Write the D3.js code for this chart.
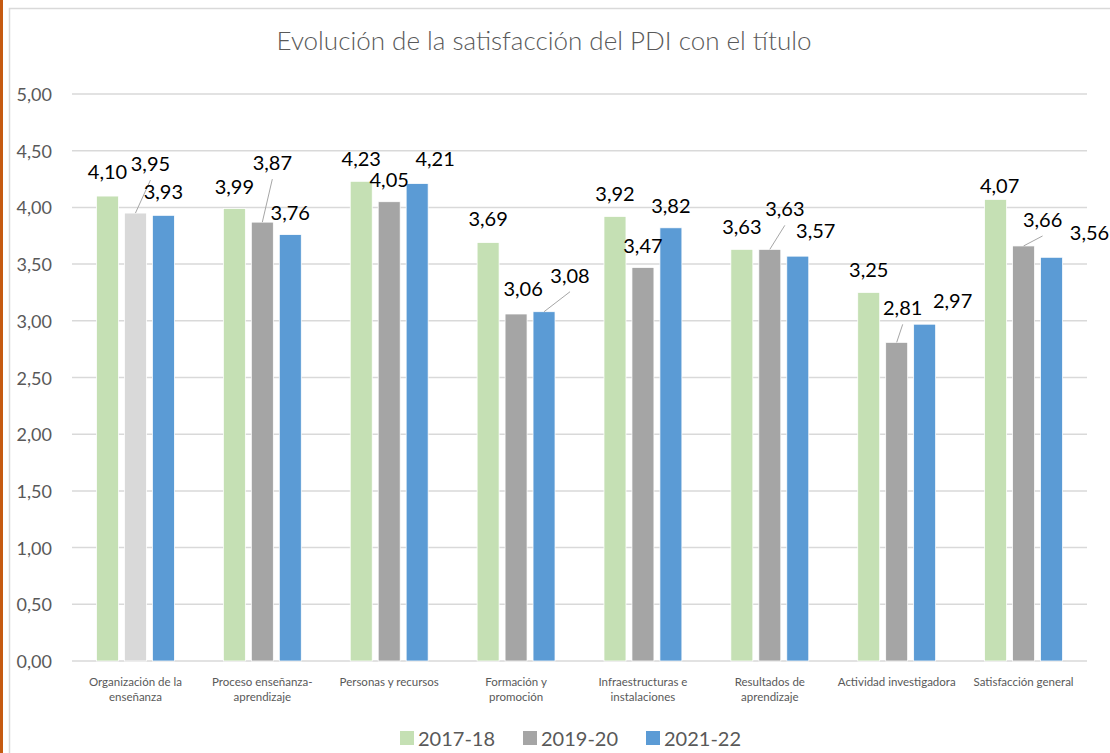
<!DOCTYPE html>
<html>
<head>
<meta charset="utf-8">
<script src="https://cdn.jsdelivr.net/npm/d3@7/dist/d3.min.js"></script>
<style>
  html, body { margin: 0; padding: 0; background: #fff; }
  svg { display: block; font-family: Lato, "Open Sans", sans-serif; }
</style>
</head>
<body>
<svg id="chart" width="1110" height="753"></svg>
<script>
// --- data ---
const categories = [
    "Organización de la\nenseñanza",
    "Proceso enseñanza-\naprendizaje",
    "Personas y recursos",
    "Formación y\npromoción",
    "Infraestructuras e\ninstalaciones",
    "Resultados de\naprendizaje",
    "Actividad investigadora",
    "Satisfacción general"
];
const seriesNames = ["2017-18", "2019-20", "2021-22"];
const values2017 = [4.10, 3.99, 4.23, 3.69, 3.92, 3.63, 3.25, 4.07];
const values2019 = [3.95, 3.87, 4.05, 3.06, 3.47, 3.63, 2.81, 3.66];
const values2021 = [3.93, 3.76, 4.21, 3.08, 3.82, 3.57, 2.97, 3.56];
const yTicks = [0, 0.5, 1, 1.5, 2, 2.5, 3, 3.5, 4, 4.5, 5];

// --- style / layout ---
const W = 1110, H = 753;
const plot = { left: 72, right: 1087, top: 94, bottom: 661 };
const colors = ["#C5E0B4", "#A5A5A5", "#5B9BD5"];
const textColor = "#595959";
const gridColor = "#D9D9D9";

// label nudges [dx, dy, leader] per category, per series (Excel moved labels)
const labelNudge = [
    [[0, -2, 0], [15, -27, 1], [0, -1, 0]],
    [[0, 0, 0], [10, -37, 1], [0, 0, 0]],
    [[0, 0, 0], [0, 0, 0], [18, -3, 0]],
    [[0, -2, 0], [7, -3, 0], [26, -14, 1]],
    [[0, 0, 0], [0, 0, 0], [0, 0, 0]],
    [[0, 0, 0], [15, -18, 1], [18, -3, 0]],
    [[0, 0, 0], [6, -12, 1], [28, -1, 0]],
    [[4, 9, 0], [19, -4, 1], [38, -2, 0]]
];

const fmt = d3.formatLocale({ decimal: ",", thousands: ".", grouping: [3], currency: ["", "€"] }).format(".2f");

const svg = d3.select("#chart");

// frame
svg.append("rect")
    .attr("x", 9.5).attr("y", 8.5)
    .attr("width", W + 20).attr("height", H + 20)
    .attr("fill", "#fff")
    .attr("stroke", "#D9D9D9")
    .attr("stroke-width", 1.5);
svg.append("rect")
    .attr("x", 0).attr("y", 0)
    .attr("width", 3).attr("height", H)
    .attr("fill", "#C55A11");

// title
svg.append("text")
    .attr("x", 544).attr("y", 40)
    .attr("text-anchor", "middle")
    .attr("dominant-baseline", "central")
    .attr("fill", textColor)
    .attr("font-size", 26)
    .attr("font-weight", 300)
    .text("Evolución de la satisfacción del PDI con el título");

// scales
const x0 = d3.scaleBand()
    .domain(d3.range(categories.length))
    .range([plot.left, plot.right])
    .paddingInner(0.386)
    .paddingOuter(0.193);
const x1 = d3.scaleBand()
    .domain(d3.range(seriesNames.length))
    .range([0, x0.bandwidth()])
    .paddingInner(0.214);
const y = d3.scaleLinear().domain([0, 5]).range([plot.bottom, plot.top]);

// grid
svg.append("g")
    .selectAll("line")
    .data(yTicks)
    .join("line")
    .attr("x1", plot.left).attr("x2", plot.right)
    .attr("y1", d => y(d)).attr("y2", d => y(d))
    .attr("stroke", gridColor)
    .attr("stroke-width", 1.5);

// y labels
svg.append("g")
    .selectAll("text")
    .data(yTicks)
    .join("text")
    .attr("x", 52).attr("y", d => y(d))
    .attr("text-anchor", "end")
    .attr("dominant-baseline", "central")
    .attr("fill", textColor)
    .attr("font-size", 18)
    .text(d => fmt(d));

// bars
const allSeries = [values2017, values2019, values2021];
const barData = [];
categories.forEach((c, ci) => {
    allSeries.forEach((vals, si) => {
        barData.push({ ci, si, v: vals[ci] });
    });
});

const barColor = d => (d.ci === 0 && d.si === 1) ? "#D9D9D9" : colors[d.si];

svg.append("g")
    .selectAll("rect")
    .data(barData)
    .join("rect")
    .attr("x", d => x0(d.ci) + x1(d.si))
    .attr("y", d => y(d.v))
    .attr("width", x1.bandwidth())
    .attr("height", d => y(0) - y(d.v))
    .attr("fill", barColor)
    .attr("stroke", "#fff")
    .attr("stroke-width", 0.75);

// data labels
const labels = svg.append("g");
barData.forEach(d => {
    const [dx, dy, leader] = labelNudge[d.ci][d.si];
    const bx = x0(d.ci) + x1(d.si) + x1.bandwidth() / 2;
    const top = y(d.v);
    const lx = bx + dx, ly = top - 23 + dy;
    if (leader) {
        labels.append("line")
            .attr("x1", bx).attr("y1", top)
            .attr("x2", lx).attr("y2", ly + 17)
            .attr("stroke", "#A6A6A6")
            .attr("stroke-width", 1);
    }
    labels.append("text")
        .attr("x", lx).attr("y", ly)
        .attr("text-anchor", "middle")
        .attr("dominant-baseline", "central")
        .attr("fill", "#000")
        .attr("font-size", 20)
        .text(fmt(d.v));
});

// category labels
const catG = svg.append("g");
categories.forEach((c, ci) => {
    const t = catG.append("text")
        .attr("x", x0(ci) + x0.bandwidth() / 2)
        .attr("y", 681)
        .attr("text-anchor", "middle")
        .attr("dominant-baseline", "central")
        .attr("fill", textColor)
        .attr("font-size", 11.5);
    c.split("\n").forEach((line, li) => {
        t.append("tspan")
            .attr("x", x0(ci) + x0.bandwidth() / 2)
            .attr("dy", li === 0 ? 0 : 15)
            .text(line);
    });
});

// legend
const legend = svg.append("g").attr("transform", "translate(400,738)");
seriesNames.forEach((s, i) => {
    const g = legend.append("g").attr("transform", `translate(${i * 123},0)`);
    g.append("rect")
        .attr("x", 0).attr("y", -7)
        .attr("width", 14).attr("height", 14)
        .attr("fill", colors[i]);
    g.append("text")
        .attr("x", 18).attr("y", 0)
        .attr("dominant-baseline", "central")
        .attr("fill", textColor)
        .attr("font-size", 20)
        .text(s);
});
</script>
</body>
</html>
